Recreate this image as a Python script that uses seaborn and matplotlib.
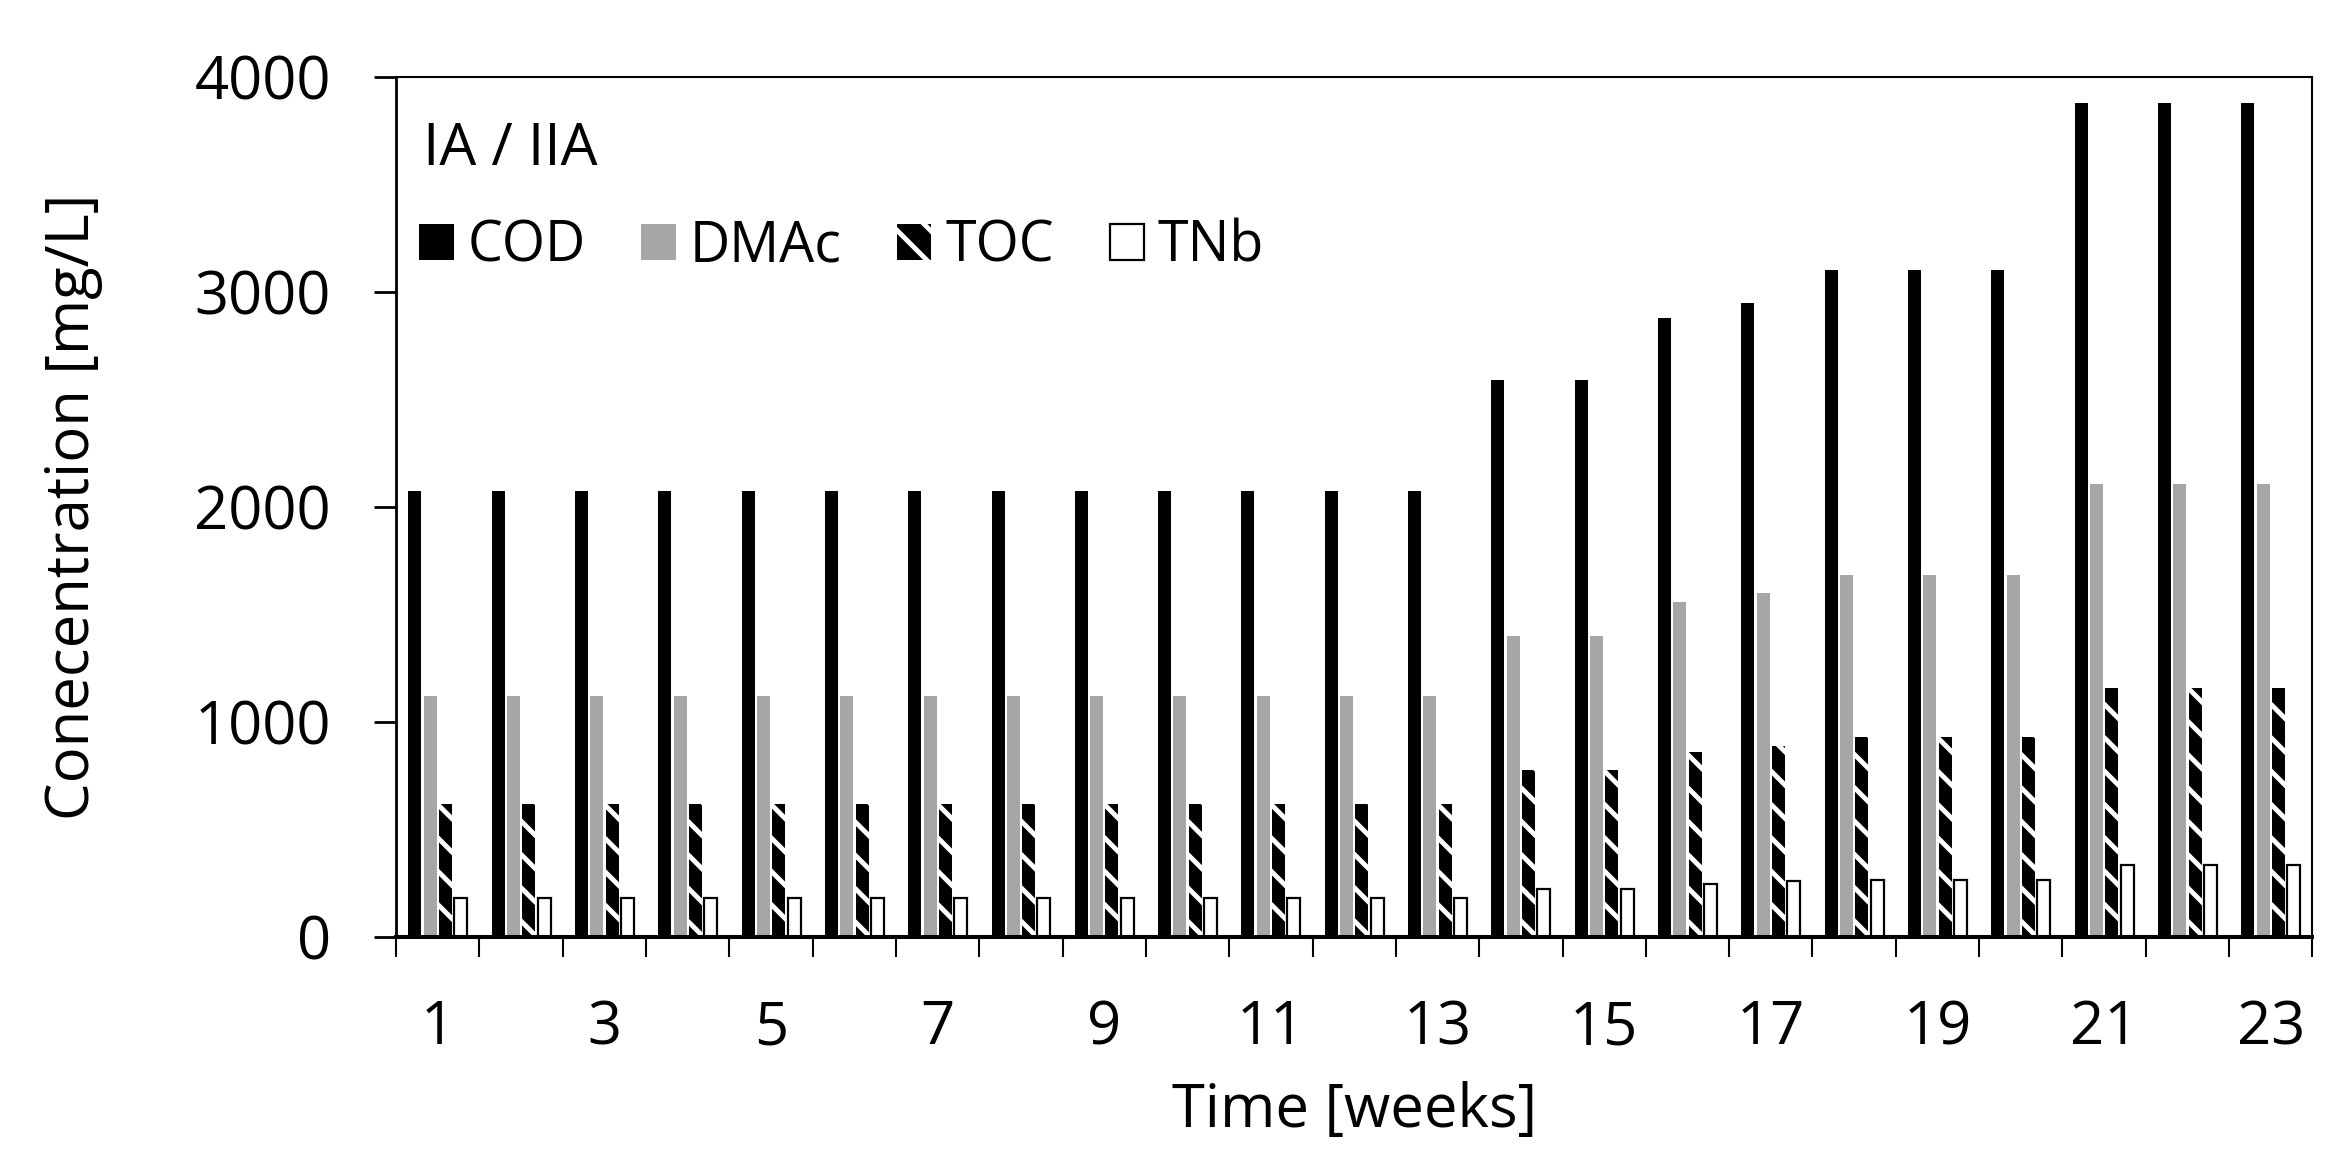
'''Weekly influent concentrations, IA / IIA'''
import numpy as np
import pandas as pd
import matplotlib
matplotlib.use('Agg')
import matplotlib.pyplot as plt
from matplotlib.patches import Patch
import seaborn as sns

#region data
weeks = list(range(1, 24))
series_names = ['COD', 'DMAc', 'TOC', 'TNb']
cod = [2075] * 13 + [2590, 2590, 2880, 2950, 3100, 3100, 3100, 3880, 3880, 3880]
dmac = [1120] * 13 + [1400, 1400, 1560, 1600, 1685, 1685, 1685, 2105, 2105, 2105]
toc = [617] * 13 + [775, 775, 862, 889, 928, 928, 928, 1160, 1160, 1160]
tnb = [180] * 13 + [224, 224, 248, 258, 266, 266, 266, 336, 336, 336]
y_ticks = [0, 1000, 2000, 3000, 4000]
panel_label = 'IA / IIA'
#endregion

df = pd.DataFrame({'week': [str(w) for w in weeks] * 4,
                   'series': np.repeat(series_names, len(weeks)),
                   'value': cod + dmac + toc + tnb})

sns.set_style('ticks')
plt.rcParams['font.family'] = ['Open Sans', 'DejaVu Sans']
plt.rcParams['hatch.linewidth'] = 3.5
for k in ['text.color', 'axes.labelcolor', 'xtick.color', 'ytick.color', 'axes.edgecolor']:
    plt.rcParams[k] = 'black'

fig = plt.figure(figsize=(23.44, 11.61), dpi=100)
ax = fig.add_axes([0.169, 0.193, 0.8175, 0.7407])

pal = {'COD': 'black', 'DMAc': '#a6a6a6', 'TOC': 'black', 'TNb': 'white'}
sns.barplot(data=df, x='week', y='value', hue='series', hue_order=series_names,
            palette=pal, saturation=1, width=0.735, gap=0.15, linewidth=0,
            errorbar=None, legend=False, ax=ax)

# per-series styling
for name, bars in zip(series_names, ax.containers):
    for p in bars:
        if name == 'TOC':
            p.set_edgecolor('white')
            p.set_hatch('\\')
            p.set_linewidth(0)
        elif name == 'TNb':
            p.set_edgecolor('black')
            p.set_linewidth(1.6)

#region axis
ax.set_ylim(0, 4000)
ax.set_xlim(-0.5, len(weeks) - 0.5)
ax.set_yticks(y_ticks)
ax.set_xticks(range(len(weeks)))
ax.set_xticklabels([str(w) if w % 2 == 1 else '' for w in weeks])
ax.set_xticks(np.arange(-0.5, len(weeks), 1), minor=True)
ax.tick_params(axis='x', which='major', length=0, pad=44, labelsize=43)
ax.tick_params(axis='x', which='minor', length=14.5, width=1.5, direction='out')
ax.tick_params(axis='y', which='major', length=16, width=2, pad=31, labelsize=43)

ax.set_xlabel('Time [weeks]', fontsize=43)
ax.set_ylabel('Conecentration [mg/L]', fontsize=43)
ax.xaxis.set_label_coords(0.5, -0.168)
ax.yaxis.set_label_coords(-0.153, 0.5)

for side in ['top', 'right']:
    ax.spines[side].set_linewidth(1.5)
ax.spines['left'].set_linewidth(2)
ax.spines['bottom'].set_linewidth(2.9)
for s in ax.spines.values():
    s.set_color('black')
#endregion

#region legend
ax.text(0.014, 0.898, panel_label, transform=ax.transAxes, fontsize=42,
        va='baseline', ha='left')
handles = [Patch(facecolor='black', edgecolor='black', linewidth=0),
           Patch(facecolor='#a6a6a6', edgecolor='#a6a6a6', linewidth=0),
           Patch(facecolor='black', edgecolor='white', hatch='\\', linewidth=0),
           Patch(facecolor='white', edgecolor='black', linewidth=1.6)]
ax.legend(handles, series_names, loc='center left', bbox_to_anchor=(0.012, 0.802),
          ncol=4, frameon=False, fontsize=40, handlelength=0.62, handleheight=0.62,
          handletextpad=0.25, columnspacing=1.0, borderpad=0, borderaxespad=0)
#endregion

fig.savefig('out.png', dpi=100)
